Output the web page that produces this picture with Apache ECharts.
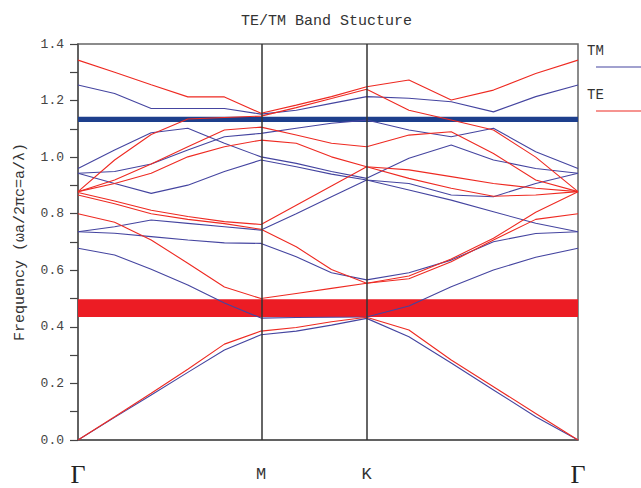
<!DOCTYPE html>
<html>
<head>
<meta charset="utf-8">
<script src="https://cdn.jsdelivr.net/npm/echarts@6/dist/echarts.min.js"></script>
<style>
html,body{margin:0;padding:0;background:#fff;}
#chart{width:641px;height:488px;}
</style>
</head>
<body>
<div id="chart"></div>
<script>
// k-path sampling positions (Γ -> M -> K -> Γ)
const kPath = [0, 0.1155, 0.2309, 0.3464, 0.4619, 0.5774, 0.6885, 0.7996, 0.9107, 1.0440, 1.1774, 1.3107, 1.4440, 1.5774];
const symPoints = [0, 0.5774, 0.9107, 1.5774];
const symLabels = ['Γ', 'M', 'K', 'Γ'];
const yTicks = [0, 0.2, 0.4, 0.6, 0.8, 1.0, 1.2, 1.4];

// TM bands
const tm1 = [0, 0.08, 0.159, 0.239, 0.318, 0.372, 0.385, 0.406, 0.43, 0.365, 0.272, 0.177, 0.082, 0];
const tm2 = [0.678, 0.654, 0.604, 0.548, 0.484, 0.431, 0.433, 0.434, 0.435, 0.474, 0.542, 0.601, 0.646, 0.678];
const tm3 = [0.736, 0.731, 0.719, 0.707, 0.697, 0.695, 0.648, 0.591, 0.566, 0.591, 0.636, 0.701, 0.73, 0.736];
const tm4 = [0.736, 0.754, 0.778, 0.766, 0.754, 0.742, 0.80, 0.86, 0.919, 0.884, 0.848, 0.807, 0.766, 0.736];
const tm5 = [0.943, 0.907, 0.872, 0.901, 0.949, 0.99, 0.966, 0.94, 0.919, 0.907, 0.866, 0.86, 0.907, 0.943];
const tm6 = [0.96, 1.025, 1.086, 1.102, 1.049, 1.001, 0.978, 0.949, 0.925, 0.996, 1.043, 0.99, 0.96, 0.943];
const tm7 = [0.943, 0.949, 0.976, 1.025, 1.072, 1.084, 1.102, 1.12, 1.131, 1.096, 1.072, 1.102, 1.019, 0.96];
const tm8 = [1.255, 1.225, 1.172, 1.172, 1.172, 1.152, 1.166, 1.19, 1.214, 1.208, 1.196, 1.16, 1.214, 1.255];

// TE bands
const te1 = [0, 0.082, 0.165, 0.25, 0.339, 0.385, 0.398, 0.418, 0.434, 0.389, 0.283, 0.188, 0.094, 0];
const te2 = [0.80, 0.77, 0.707, 0.625, 0.541, 0.50, 0.518, 0.536, 0.554, 0.57, 0.63, 0.707, 0.78, 0.80];
const te3 = [0.866, 0.835, 0.80, 0.78, 0.765, 0.745, 0.683, 0.603, 0.554, 0.58, 0.64, 0.713, 0.805, 0.878];
const te4 = [0.875, 0.845, 0.812, 0.79, 0.772, 0.762, 0.83, 0.898, 0.966, 0.925, 0.89, 0.862, 0.866, 0.878];
const te5 = [0.878, 0.907, 0.943, 1.001, 1.037, 1.06, 1.049, 1.001, 0.966, 0.955, 0.931, 0.907, 0.89, 0.878];
const te6 = [0.878, 0.919, 0.976, 1.037, 1.096, 1.106, 1.078, 1.049, 1.037, 1.078, 1.09, 1.013, 0.919, 0.878];
const te7 = [0.878, 0.99, 1.08, 1.135, 1.14, 1.145, 1.175, 1.207, 1.24, 1.166, 1.131, 1.096, 1.0, 0.878];
const te8 = [1.343, 1.30, 1.256, 1.213, 1.213, 1.155, 1.184, 1.214, 1.249, 1.273, 1.202, 1.237, 1.296, 1.343];

// band gaps
const teGap = [0.435, 0.498];
const tmGap = [1.124, 1.143];

const tmBands = [tm1, tm2, tm3, tm4, tm5, tm6, tm7, tm8];
const teBands = [te1, te2, te3, te4, te5, te6, te7, te8];

const TM_COLOR = '#4545a0';
const TE_COLOR = '#ee2a22';

function toPts(vals) { return vals.map((v, i) => [kPath[i], v]); }

const series = [];
series.push({
  type: 'line', data: [], silent: true, z: 1,
  markArea: {
    silent: true,
    data: [
      [{ yAxis: teGap[0], itemStyle: { color: '#ec1c24' } }, { yAxis: teGap[1] }],
      [{ yAxis: tmGap[0], itemStyle: { color: '#1d3f8c' } }, { yAxis: tmGap[1] }]
    ]
  },
  markLine: {
    silent: true, symbol: 'none', label: { show: false },
    lineStyle: { color: '#333', width: 1.5, type: 'solid' },
    data: [{ xAxis: symPoints[1] }, { xAxis: symPoints[2] }]
  }
});
tmBands.forEach((b) => series.push({
  name: 'TM', type: 'line', data: toPts(b), showSymbol: false, symbol: 'none',
  lineStyle: { color: TM_COLOR, width: 1.1 }, itemStyle: { color: TM_COLOR }, z: 3, silent: true
}));
teBands.forEach((b) => series.push({
  name: 'TE', type: 'line', data: toPts(b), showSymbol: false, symbol: 'none',
  lineStyle: { color: TE_COLOR, width: 1.1 }, itemStyle: { color: TE_COLOR }, z: 4, silent: true
}));

const chart = echarts.init(document.getElementById('chart'), null, { renderer: 'svg' });
chart.setOption({
  animation: false,
  backgroundColor: '#fff',
  title: {
    text: 'TE/TM Band Stucture',
    left: 236, top: 9,
    textStyle: { fontFamily: 'Liberation Mono', fontSize: 15, fontWeight: 'normal', color: '#333' }
  },
  grid: { left: 78, right: 63, top: 44, bottom: 48, show: true, borderColor: '#666', borderWidth: 1.5, outerBoundsMode: 'none', containLabel: false },
  xAxis: {
    type: 'value', min: symPoints[0], max: symPoints[3],
    axisLine: { show: true, lineStyle: { color: '#555', width: 1.5 } },
    axisTick: { show: false },
    splitLine: { show: false },
    axisLabel: {
      customValues: symPoints,
      margin: 21,
      formatter: function (v) {
        let idx = symPoints.findIndex(p => Math.abs(p - v) < 1e-6);
        if (idx < 0) return '';
        return idx === 0 || idx === 3 ? '{g|' + symLabels[idx] + '}' : '{m|' + symLabels[idx] + '}';
      },
      rich: {
        g: { fontFamily: 'Liberation Serif', fontSize: 26, color: '#222', height: 26, lineHeight: 26, verticalAlign: 'middle' },
        m: { fontFamily: 'Liberation Mono', fontSize: 17, color: '#333', height: 26, lineHeight: 26, verticalAlign: 'middle' }
      }
    }
  },
  yAxis: {
    type: 'value', min: 0, max: 1.4, interval: 0.2,
    name: 'Frequency (ωa/2πc=a/λ)',
    nameLocation: 'middle', nameGap: 50, nameRotate: 90,
    nameTextStyle: { fontFamily: 'Liberation Mono', fontSize: 15, color: '#333' },
    axisLine: { show: true, lineStyle: { color: '#555', width: 1.5 } },
    axisTick: { show: true, inside: false, length: 8, lineStyle: { color: '#444', width: 1.2 } },
    minorTick: { show: true, splitNumber: 2, length: 8, lineStyle: { color: '#444', width: 1.2 } },
    splitLine: { show: false },
    axisLabel: {
      margin: 14,
      formatter: v => v.toFixed(1),
      fontFamily: 'Liberation Mono', fontSize: 13, color: '#444'
    }
  },
  graphic: [
    { type: 'text', left: 587, top: 44, style: { text: 'TM', fontFamily: 'Liberation Mono', fontSize: 14, fill: '#333' } },
    { type: 'line', shape: { x1: 596, y1: 67, x2: 641, y2: 67 }, style: { stroke: TM_COLOR, lineWidth: 1.1 } },
    { type: 'text', left: 587, top: 88, style: { text: 'TE', fontFamily: 'Liberation Mono', fontSize: 14, fill: '#333' } },
    { type: 'line', shape: { x1: 596, y1: 111, x2: 641, y2: 111 }, style: { stroke: TE_COLOR, lineWidth: 1.1 } }
  ],
  series: series
});
</script>
</body>
</html>
